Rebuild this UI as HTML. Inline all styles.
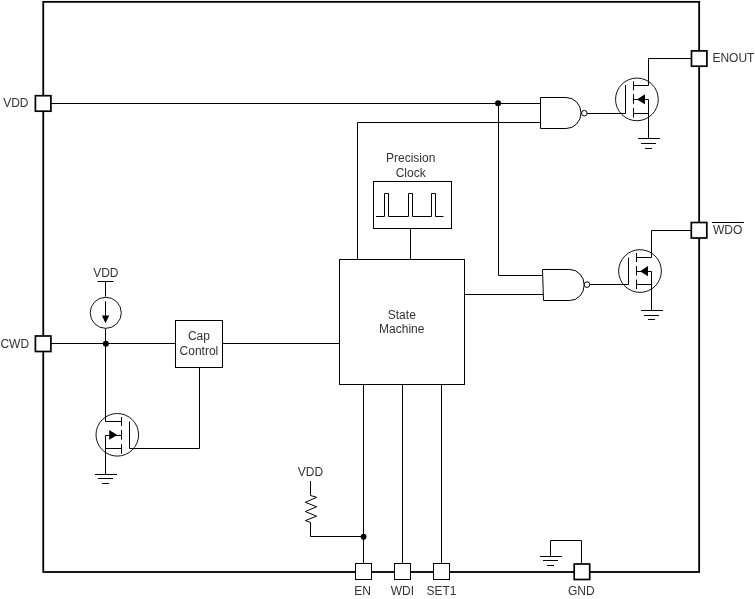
<!DOCTYPE html>
<html><head><meta charset="utf-8"><style>
html,body{margin:0;padding:0;background:#fff;}
svg{display:block;will-change:transform;}
text{font-family:"Liberation Sans",sans-serif;font-size:12px;fill:#333;}
</style></head><body>
<svg width="755" height="599" viewBox="0 0 755 599">
<g fill="none" stroke="#000" stroke-width="1">
<!-- VDD wire and NAND1 inputs -->
<path d="M51 103.5H540.5"/>
<path d="M357.5 259.5V122.5H540.5"/>
<path d="M498.5 103.5V275.5H542.5"/>
<!-- NAND1 -->
<path d="M540.5 97.5H566.2 A14.8 15.5 0 0 1 566.2 128.5H540.5Z"/>
<circle cx="584.3" cy="113.2" r="2.8"/>
<path d="M587.1 113.5H625.5V85"/>
<!-- MOSFET1 -->
<circle cx="636.9" cy="99.4" r="21.35" stroke="#111"/>
<path d="M633.5 81.3V90.4M633.5 94.2V103.8M633.5 107.9V117.5"/>
<path d="M633.5 85.5H648.5V58.5H691"/>
<path d="M633.5 99.5H648.5V138.5M633.5 113.5H648.5"/>
<path d="M638 138.5H660M641 143.5H656M645 148.5H652"/>
<!-- Clock -->
<rect x="373.5" y="181.5" width="78" height="47"/>
<path d="M376 216.5H384.5V193.5H388.5V216.5H408.5V193.5H412.5V216.5H431.5V193.5H435.5V216.5H443.5"/>
<path d="M410.5 228.5V259.5"/>
<!-- State machine -->
<rect x="339.5" y="259.5" width="125" height="125"/>
<path d="M464.5 294.5H543"/>
<!-- NAND2 -->
<path d="M542.5 269.5H569.7 A14.5 15.5 0 0 1 569.7 300.5H543.5Z"/>
<circle cx="587" cy="284.6" r="2.8"/>
<path d="M589.8 284.5H628.5V257.5"/>
<!-- MOSFET2 -->
<circle cx="640" cy="271.05" r="21.35" stroke="#111"/>
<path d="M636.5 252.9V262M636.5 266V275.5M636.5 279.6V289.2"/>
<path d="M636.5 257.5H651.5V230.5H691"/>
<path d="M636.5 271.5H651.5V310.5M636.5 284.5H651.5"/>
<path d="M641 310.5H663M644 315.5H659M648 319.5H655"/>
<!-- CWD -->
<path d="M51 343.5H175.5M222.5 343.5H339.5"/>
<rect x="175.5" y="320.5" width="47" height="47"/>
<path d="M199.5 367.5V448.5H129.5V421.5"/>
<!-- Current source -->
<path d="M97.5 281.5H113.5M105.5 281.5V296.6M105.5 328.6V421.5H121.5"/>
<circle cx="105.75" cy="312.8" r="15.55" stroke="#111"/>
<path d="M105.5 301.2V316"/>
<!-- Left MOSFET -->
<circle cx="117.3" cy="434.8" r="21.3" stroke="#111"/>
<path d="M121.5 417.1V425.8M121.5 430V439.6M121.5 444.2V453.8"/>
<path d="M121.5 435.5H105.5V474.5M105.5 448.5H121.5"/>
<path d="M95 474.5H117M98 478.5H113M102 483.5H109"/>
<!-- Bottom pins -->
<path d="M363.5 385V563.5M402.5 385V563.5M441.5 385V563.5"/>
<!-- Resistor -->
<path d="M310.5 481V495.5L316.6 497.3L305.3 502.3L316.6 506.8L305.3 511.5L316.6 516.2L305.3 520.6L310.5 522.4V536.5H363.5"/>
<!-- GND -->
<path d="M581.5 564V540.5H550.5V556.5"/>
<path d="M540 556.5H562M543 560.5H558M547 565.5H554"/>
<!-- outer box -->
<rect x="43.25" y="1.85" width="655.9" height="570.15" stroke-width="1.8"/>
</g>
<g fill="#000" stroke="none">
<circle cx="498.1" cy="103.25" r="3.05"/>
<circle cx="105.85" cy="343.85" r="3"/>
<circle cx="363.6" cy="536.75" r="2.9"/>
<path d="M645 94.2L636.9 99.5L645 104.2Z"/>
<path d="M648 266L640 271.3L648 276.2Z"/>
<path d="M109.2 430L117.4 435L109.2 439.8Z"/>
<path d="M101.9 315.5L109.2 315.5L105.5 323.3Z"/>
</g>
<!-- pads -->
<g fill="#fff" stroke="#000" stroke-width="1.7">
<rect x="35.4" y="95.7" width="15.5" height="15.5"/>
<rect x="35.4" y="336" width="15.5" height="15.5"/>
<rect x="691.5" y="50.9" width="15.4" height="15.3"/>
<rect x="691.3" y="222.5" width="15.5" height="15.5"/>
<rect x="574.2" y="564" width="15.5" height="15.5"/>
</g>
<g fill="#fff" stroke="#000" stroke-width="1">
<rect x="355.5" y="563.5" width="16" height="16"/>
<rect x="394.5" y="563.5" width="16" height="16"/>
<rect x="433.5" y="563.5" width="16" height="16"/>
</g>
<!-- texts -->
<text x="3.2" y="106.7">VDD</text>
<text x="0.4" y="348">CWD</text>
<text x="712.4" y="62">ENOUT</text>
<text x="713" y="234">WDO</text>
<path d="M711.9 222.5H743.9" stroke="#000" stroke-width="1"/>
<text x="410.7" y="162" text-anchor="middle">Precision</text>
<text x="410.7" y="176.8" text-anchor="middle">Clock</text>
<text x="401.8" y="319" text-anchor="middle">State</text>
<text x="401.8" y="333" text-anchor="middle">Machine</text>
<text x="198.9" y="340" text-anchor="middle">Cap</text>
<text x="198.9" y="355" text-anchor="middle">Control</text>
<text x="105.8" y="277.2" text-anchor="middle">VDD</text>
<text x="310.5" y="475.8" text-anchor="middle">VDD</text>
<text x="362.5" y="595.4" text-anchor="middle">EN</text>
<text x="402.4" y="595.2" text-anchor="middle">WDI</text>
<text x="441.4" y="595.3" text-anchor="middle">SET1</text>
<text x="581.3" y="595" text-anchor="middle">GND</text>
</svg>
</body></html>
